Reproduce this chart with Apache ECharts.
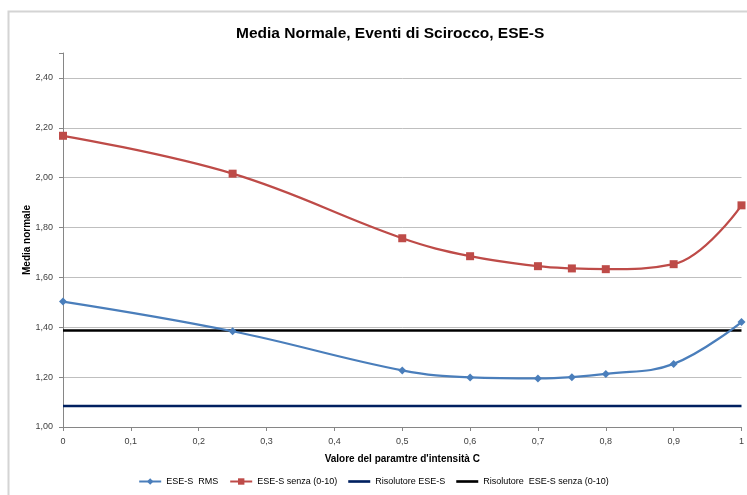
<!DOCTYPE html>
<html>
<head>
<meta charset="utf-8">
<script src="https://cdn.jsdelivr.net/npm/echarts@6/dist/echarts.min.js"></script>
<style>
html,body{margin:0;padding:0;background:#fff;}
#chart{width:747px;height:495px;}
</style>
</head>
<body>
<div id="chart"></div>
<script>
// Data
var cValues = [0, 0.25, 0.5, 0.6, 0.7, 0.75, 0.8, 0.9, 1];
var eseRms = [1.503, 1.384, 1.227, 1.199, 1.195, 1.200, 1.213, 1.253, 1.421];
var eseSenza = [2.168, 2.016, 1.757, 1.685, 1.645, 1.636, 1.633, 1.653, 1.889];
var risolutoreEse = 1.084;
var risolutoreEseSenza = 1.387;
var seriesNames = ['ESE-S  RMS', 'ESE-S senza (0-10)', 'Risolutore ESE-S', 'Risolutore  ESE-S senza (0-10)'];
var xRange = [0, 1];

function pairs(xs, ys) { return xs.map(function (x, i) { return [x, ys[i]]; }); }
function flat(v) { return xRange.map(function (x) { return [x, v]; }); }

var chart = echarts.init(document.getElementById('chart'), null, {renderer: 'canvas'});
var font = 'Liberation Sans, Arial, sans-serif';
var gridColors = [];
for (var i = 0; i < 8; i++) gridColors.push('#bfbfbf');
gridColors.push('rgba(0,0,0,0)');
var lineIcon = 'path://M0,0 H20 V2.4 H0 Z';

chart.setOption({
  animation: false,
  backgroundColor: '#ffffff',
  graphic: [{
    type: 'rect', left: 6, top: 9, silent: true,
    shape: {width: 760, height: 500},
    style: {fill: 'none', stroke: '#d4d4d4', lineWidth: 2}
  }],
  title: {
    text: 'Media Normale, Eventi di Scirocco, ESE-S',
    left: 231, top: 21,
    textStyle: {fontFamily: font, fontSize: 15.5, fontWeight: 'bold', color: '#000'}
  },
  legend: {
    bottom: 4, left: 'center',
    itemWidth: 22, itemHeight: 8, itemGap: 11,
    textStyle: {fontFamily: font, fontSize: 9, color: '#000'},
    data: [
      {name: seriesNames[0]},
      {name: seriesNames[1]},
      {name: seriesNames[2], icon: lineIcon},
      {name: seriesNames[3], icon: lineIcon}
    ]
  },
  grid: {left: 63, right: 4, top: 53, bottom: 68, containLabel: false},
  xAxis: {
    type: 'value', min: 0, max: 1, interval: 0.1,
    name: "Valore del paramtre d'intensità C",
    nameLocation: 'middle', nameGap: 27, nameMoveOverlap: false,
    nameTextStyle: {fontFamily: font, fontSize: 10, fontWeight: 'bold', color: '#000'},
    axisLine: {lineStyle: {color: '#868686', width: 1}},
    axisTick: {show: true, length: 4, lineStyle: {color: '#868686'}},
    splitLine: {show: false},
    axisLabel: {
      fontFamily: font, fontSize: 9, color: '#404040', margin: 10,
      formatter: function (v) { return String(Math.round(v * 10) / 10).replace('.', ','); }
    }
  },
  yAxis: {
    type: 'value', min: 1, max: 2.5, interval: 0.2,
    name: 'Media normale',
    nameLocation: 'middle', nameGap: 31, nameRotate: 90, nameMoveOverlap: false,
    nameTextStyle: {fontFamily: font, fontSize: 10, fontWeight: 'bold', color: '#000'},
    axisLine: {show: true, lineStyle: {color: '#868686', width: 1}},
    axisTick: {show: true, length: 4, lineStyle: {color: '#868686'}},
    splitLine: {show: true, lineStyle: {color: gridColors, width: 1}},
    axisLabel: {
      fontFamily: font, fontSize: 9, color: '#404040', margin: 10,
      formatter: function (v) {
        if (Math.abs(v - 2.5) < 1e-6) return '';
        return v.toFixed(2).replace('.', ',');
      }
    }
  },
  series: [
    {
      name: seriesNames[2], type: 'line', data: flat(risolutoreEse),
      symbol: 'none', lineStyle: {color: '#002060', width: 2.5}, itemStyle: {color: '#002060'}, z: 2
    },
    {
      name: seriesNames[3], type: 'line', data: flat(risolutoreEseSenza),
      symbol: 'none', lineStyle: {color: '#000000', width: 2.5}, itemStyle: {color: '#000000'}, z: 2
    },
    {
      name: seriesNames[0], type: 'line', data: pairs(cValues, eseRms), smooth: 0.4,
      symbol: 'diamond', symbolSize: 8,
      lineStyle: {color: '#4A7EBB', width: 2.25}, itemStyle: {color: '#4A7EBB'}, z: 3
    },
    {
      name: seriesNames[1], type: 'line', data: pairs(cValues, eseSenza), smooth: 0.4,
      symbol: 'rect', symbolSize: 8,
      lineStyle: {color: '#BE4B48', width: 2.25}, itemStyle: {color: '#BE4B48'}, z: 3
    }
  ]
});
</script>
</body>
</html>
